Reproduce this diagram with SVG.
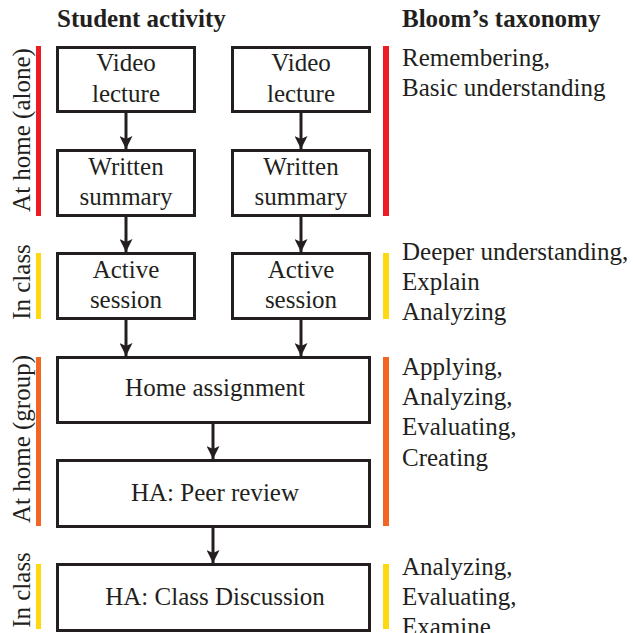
<svg xmlns="http://www.w3.org/2000/svg" width="633" height="633" viewBox="0 0 633 633">
<defs>
<marker id="ah" markerWidth="13" markerHeight="13" refX="13" refY="6.5" orient="auto" markerUnits="userSpaceOnUse">
<path d="M0,0 L13,6.5 L0,13 L3,6.5 Z" fill="#231f20"/>
</marker>
<style>
text{font-family:"Liberation Serif","Times New Roman",serif;font-size:25px;fill:#231f20}
.t{font-weight:bold}
.c{text-anchor:middle}
.box{fill:#fff;stroke:#231f20;stroke-width:3}
.con{stroke:#231f20;stroke-width:3;fill:none;marker-end:url(#ah)}
.red{fill:#ed1c24}.yel{fill:#ffd90f}.ora{fill:#f26522}
</style>
</defs>
<rect width="633" height="633" fill="#fff"/>
<text class="t" x="57" y="27">Student activity</text>
<text class="t" x="402" y="27">Bloom’s taxonomy</text>

<g id="phases">
<rect class="red" x="36" y="46" width="5" height="170"/>
<rect class="yel" x="36" y="253" width="5" height="66"/>
<rect class="ora" x="36" y="357" width="5" height="169"/>
<rect class="yel" x="36" y="564" width="5" height="65"/>
<rect class="red" x="383" y="46" width="6" height="170"/>
<rect class="yel" x="383" y="253" width="6" height="66"/>
<rect class="ora" x="383" y="357" width="6" height="169"/>
<rect class="yel" x="383" y="564" width="6" height="65"/>
<text class="c" transform="translate(30,130) rotate(-90)">At home (alone)</text>
<text class="c" transform="translate(30,282) rotate(-90)">In class</text>
<text class="c" transform="translate(30,439) rotate(-90)">At home (group)</text>
<text class="c" transform="translate(30,590) rotate(-90)">In class</text>
</g>

<g id="bloom">
<text x="402" y="66">Remembering,</text>
<text x="402" y="96">Basic understanding</text>
<text x="402" y="260">Deeper understanding,</text>
<text x="402" y="290">Explain</text>
<text x="402" y="320">Analyzing</text>
<text x="402" y="375">Applying,</text>
<text x="402" y="405">Analyzing,</text>
<text x="402" y="435">Evaluating,</text>
<text x="402" y="466">Creating</text>
<text x="402" y="575">Analyzing,</text>
<text x="402" y="605">Evaluating,</text>
<text x="402" y="635">Examine</text>
</g>

<g id="connectors">
<line class="con" x1="126" y1="112" x2="126" y2="149"/>
<line class="con" x1="301" y1="112" x2="301" y2="149"/>
<line class="con" x1="126" y1="216" x2="126" y2="252"/>
<line class="con" x1="301" y1="216" x2="301" y2="252"/>
<line class="con" x1="126" y1="319" x2="126" y2="356"/>
<line class="con" x1="301" y1="319" x2="301" y2="356"/>
<line class="con" x1="213" y1="423" x2="213" y2="459"/>
<line class="con" x1="213" y1="527" x2="213" y2="563"/>
</g>

<g id="video1"><rect class="box" x="57.5" y="47.5" width="137" height="64"/>
<text class="c" x="126" y="71">Video</text><text class="c" x="126" y="102">lecture</text></g>
<g id="video2"><rect class="box" x="232.5" y="47.5" width="137" height="64"/>
<text class="c" x="301" y="71">Video</text><text class="c" x="301" y="102">lecture</text></g>
<g id="summary1"><rect class="box" x="57.5" y="150.5" width="137" height="65"/>
<text class="c" x="126" y="175">Written</text><text class="c" x="126" y="205">summary</text></g>
<g id="summary2"><rect class="box" x="232.5" y="150.5" width="137" height="65"/>
<text class="c" x="301" y="175">Written</text><text class="c" x="301" y="205">summary</text></g>
<g id="active1"><rect class="box" x="57.5" y="253.5" width="137" height="65"/>
<text class="c" x="126" y="278">Active</text><text class="c" x="126" y="308">session</text></g>
<g id="active2"><rect class="box" x="232.5" y="253.5" width="137" height="65"/>
<text class="c" x="301" y="278">Active</text><text class="c" x="301" y="308">session</text></g>
<g id="home"><rect class="box" x="57.5" y="357.5" width="312" height="65"/>
<text class="c" x="215" y="396">Home assignment</text></g>
<g id="peer"><rect class="box" x="57.5" y="460.5" width="312" height="66"/>
<text class="c" x="215" y="501">HA: Peer review</text></g>
<g id="discussion"><rect class="box" x="57.5" y="564.5" width="312" height="66"/>
<text class="c" x="215" y="605">HA: Class Discussion</text></g>
</svg>
